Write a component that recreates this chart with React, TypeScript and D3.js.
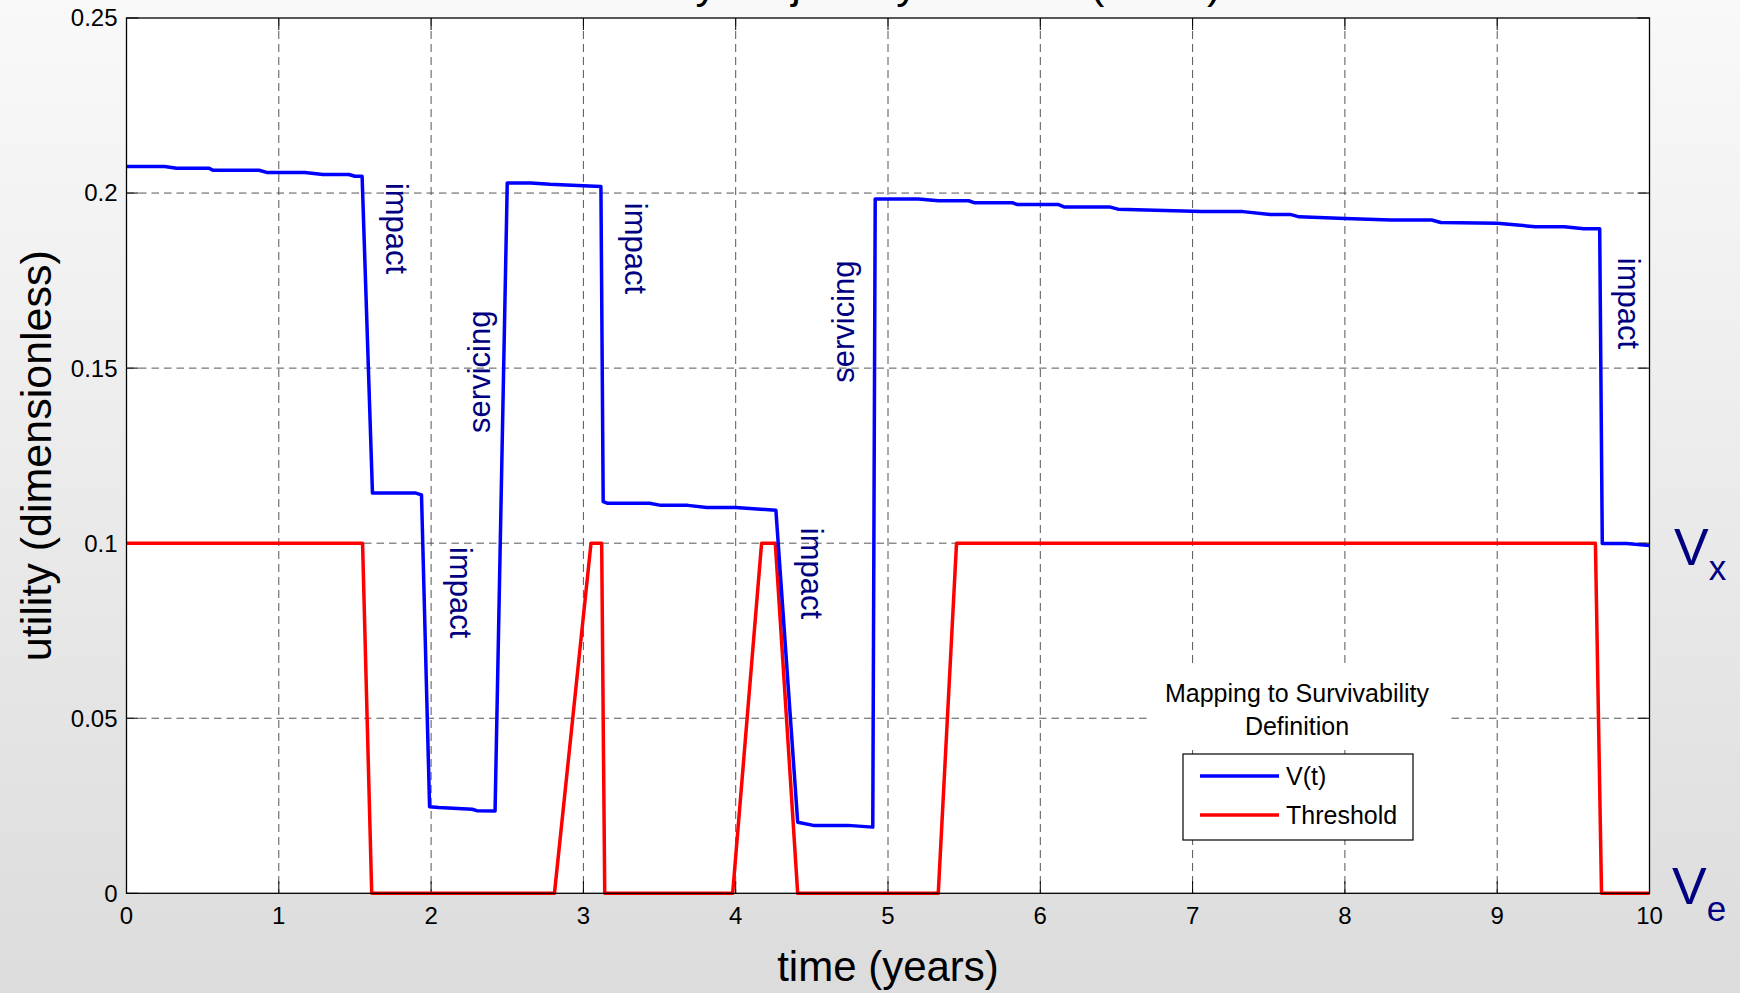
import React from "react";
import * as d3 from "d3";

const vTime = [0, 0.25, 0.33, 0.54, 0.57, 0.87, 0.92, 1.17, 1.29, 1.46, 1.5, 1.547, 1.615, 1.9, 1.937, 1.99, 2.05, 2.27, 2.3, 2.42, 2.5, 2.654, 2.78, 3.0, 3.115, 3.13, 3.16, 3.434, 3.51, 3.686, 3.81, 4.0, 4.163, 4.264, 4.407, 4.51, 4.736, 4.9, 4.916, 5.2, 5.33, 5.53, 5.57, 5.82, 5.85, 6.12, 6.16, 6.46, 6.51, 7.06, 7.33, 7.51, 7.64, 7.7, 8.0, 8.3, 8.57, 8.63, 9.0, 9.25, 9.44, 9.57, 9.673, 9.69, 9.85, 10];
const vValue = [0.2076, 0.2076, 0.2071, 0.2071, 0.2065, 0.2065, 0.2059, 0.2059, 0.2053, 0.2053, 0.2048, 0.2048, 0.1143, 0.1143, 0.1138, 0.0247, 0.0245, 0.024, 0.0236, 0.0235, 0.2029, 0.2029, 0.2025, 0.2021, 0.2019, 0.1119, 0.1114, 0.1114, 0.1108, 0.1108, 0.1102, 0.1102, 0.1097, 0.1094, 0.0203, 0.0194, 0.0194, 0.0189, 0.1983, 0.1983, 0.1978, 0.1978, 0.1972, 0.1972, 0.1967, 0.1967, 0.196, 0.196, 0.1954, 0.1947, 0.1947, 0.1939, 0.1939, 0.1932, 0.1927, 0.1923, 0.1923, 0.1916, 0.1914, 0.1904, 0.1904, 0.1898, 0.1898, 0.0999, 0.0999, 0.0993];

const thrTime = [0, 1.55, 1.61, 2.81, 3.05, 3.12, 3.14, 3.98, 4.17, 4.26, 4.407, 5.33, 5.45, 9.645, 9.685, 10];
const thrValue = [0.1, 0.1, 0, 0, 0.1, 0.1, 0, 0, 0.1, 0.1, 0, 0, 0.1, 0.1, 0, 0];

const xTicks = [0, 1, 2, 3, 4, 5, 6, 7, 8, 9, 10];
const yTicks = [0, 0.05, 0.1, 0.15, 0.2, 0.25];
const yTickLabels = ["0", "0.05", "0.1", "0.15", "0.2", "0.25"];

const annoText = ["impact", "impact", "servicing", "impact", "impact", "servicing", "impact"];
const annoT = [1.704, 2.124, 2.39, 3.27, 4.432, 4.78, 9.793];
const annoV = [0.2029, 0.0989, 0.1315, 0.1972, 0.1044, 0.1458, 0.1815];
const annoRot = [90, 90, -90, 90, 90, -90, 90];

const legendLabels = ["V(t)", "Threshold"];
const legendColors = ["#0000ff", "#ff0000"];

const W = 1740, H = 993;
const L = 126.5, R = 1649.5, T = 18, B = 893.3;
const FONT = "'Liberation Sans', Arial, Helvetica, sans-serif";
const NAVY = "#000080";
const GRID = "#555555";

export default function App() {
  const x = d3.scaleLinear().domain([0, 10]).range([L, R]);
  const y = d3.scaleLinear().domain([0, 0.25]).range([B, T]);
  const line = d3.line<[number, number]>().x(d => x(d[0])).y(d => y(d[1]));
  const vData: [number, number][] = vTime.map((t, i) => [t, vValue[i]]);
  const thrData: [number, number][] = thrTime.map((t, i) => [t, thrValue[i]]);
  const tick = 12;

  return (
    <svg width={W} height={H} style={{ position: "absolute", left: 0, top: 0, overflow: "hidden" }} fontFamily={FONT}>
      <defs>
        <linearGradient id="bg" x1="0" y1="0" x2="0" y2="1">
          <stop offset="0" stopColor="#f9f9f9" />
          <stop offset="1" stopColor="#dcdcdc" />
        </linearGradient>
      </defs>
      <rect x={0} y={0} width={W} height={H} fill="url(#bg)" />
      <text x={612} y={-2} fontSize={43} fill="#000">Utility Trajectory of Case (Era 1)</text>
      <rect x={L} y={T} width={R - L} height={B - T} fill="#fff" />
      {xTicks.filter(t => t > 0 && t < 10).map(t => (
        <line key={"gx" + t} x1={x(t)} x2={x(t)} y1={T} y2={B} stroke={GRID} strokeWidth={1} strokeDasharray="8,5" />
      ))}
      {yTicks.filter(v => v > 0 && v < 0.25).map(v => (
        <line key={"gy" + v} x1={L} x2={R} y1={y(v)} y2={y(v)} stroke={GRID} strokeWidth={1} strokeDasharray="7.5,5" />
      ))}
      {xTicks.map(t => (
        <g key={"tx" + t}>
          <line x1={x(t)} x2={x(t)} y1={B} y2={B - tick} stroke="#000" />
          <line x1={x(t)} x2={x(t)} y1={T} y2={T + tick} stroke="#000" />
          <text x={x(t)} y={B + 31} fontSize={24} textAnchor="middle" fill="#000">{t}</text>
        </g>
      ))}
      {yTicks.map((v, i) => (
        <g key={"ty" + v}>
          <line x1={L} x2={L + tick} y1={y(v)} y2={y(v)} stroke="#000" />
          <line x1={R} x2={R - tick} y1={y(v)} y2={y(v)} stroke="#000" />
          <text x={L - 9} y={y(v)} dy="0.35em" fontSize={24} textAnchor="end" fill="#000">{yTickLabels[i]}</text>
        </g>
      ))}
      <path d={line(thrData) || ""} fill="none" stroke="#ff0000" strokeWidth={3.5} strokeLinejoin="round" />
      <path d={line(vData) || ""} fill="none" stroke="#0000ff" strokeWidth={3.5} strokeLinejoin="round" />
      {annoText.map((s, i) => (
        <text key={"a" + i} transform={`translate(${x(annoT[i])},${y(annoV[i])}) rotate(${annoRot[i]})`} fontSize={31} fill={NAVY}>{s}</text>
      ))}
      <rect x={L} y={T} width={R - L} height={B - T} fill="none" stroke="#000" strokeWidth={1.3} />
      <rect x={1148} y={663} width={300} height={87} fill="#fff" />
      <text x={1297} y={702} fontSize={25} textAnchor="middle" fill="#000">Mapping to Survivability</text>
      <text x={1297} y={735} fontSize={25} textAnchor="middle" fill="#000">Definition</text>
      <rect x={1183} y={754} width={230} height={86} fill="#fff" stroke="#000" strokeWidth={1.2} />
      {legendLabels.map((lab, i) => (
        <g key={"lg" + i}>
          <line x1={1200} x2={1279} y1={776 + i * 39} y2={776 + i * 39} stroke={legendColors[i]} strokeWidth={3.5} />
          <text x={1286} y={776 + i * 39} dy="0.35em" fontSize={25} fill="#000">{lab}</text>
        </g>
      ))}
      <text x={(L + R) / 2} y={981} fontSize={42} textAnchor="middle" fill="#000">time (years)</text>
      <text transform={`translate(51,${(T + B) / 2}) rotate(-90)`} fontSize={43} textAnchor="middle" fill="#000">utility (dimensionless)</text>
      <text x={1674} y={y(0.1) + 22} fontSize={52} fill={NAVY}>V<tspan fontSize={35} dy={15}>x</tspan></text>
      <text x={1672} y={y(0) + 11} fontSize={52} fill={NAVY}>V<tspan fontSize={35} dy={17}>e</tspan></text>
    </svg>
  );
}
